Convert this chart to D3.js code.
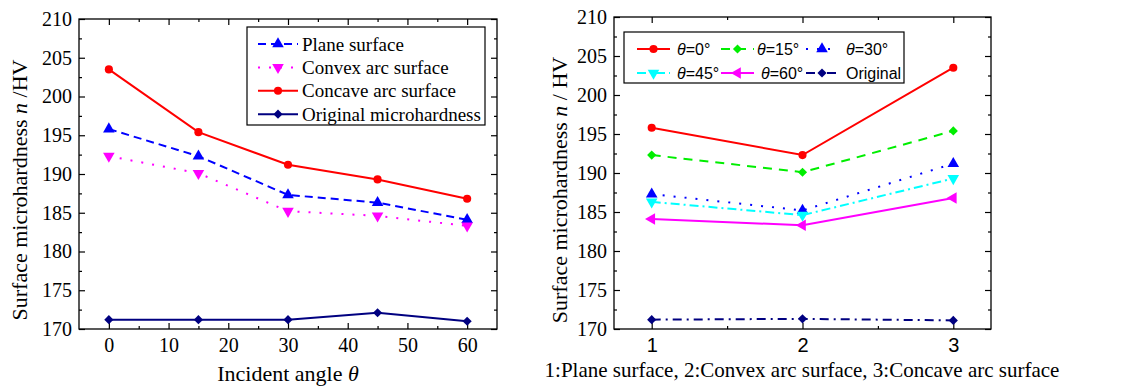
<!DOCTYPE html>
<html>
<head>
<meta charset="utf-8">
<script src="https://cdn.jsdelivr.net/npm/d3@7"></script>
<style>
  body { margin: 0; background: #fff; }
  svg { display: block; }
</style>
</head>
<body>
<svg id="chart" width="1122" height="386"></svg>
<script>
// left panel: hardness vs incident angle
var angles = [0, 15, 30, 45, 60];
var planeVals = [195.8, 192.3, 187.3, 186.3, 184.1];
var convexVals = [192.3, 190.1, 185.2, 184.6, 183.3];
var concaveVals = [203.5, 195.4, 191.2, 189.3, 186.8];
var originalVals = [171.2, 171.2, 171.2, 172.1, 171.0];

// right panel: hardness vs surface type
var surfaces = [1, 2, 3];
var theta0 = [195.8, 192.3, 203.5];
var theta15 = [192.3, 190.1, 195.4];
var theta30 = [187.3, 185.2, 191.2];
var theta45 = [186.3, 184.6, 189.3];
var theta60 = [184.1, 183.3, 186.8];
var originalSurf = [171.2, 171.3, 171.1];

var yTicks = [170, 175, 180, 185, 190, 195, 200, 205, 210];
var leftXTicks = [0, 10, 20, 30, 40, 50, 60];

var SERIF = '"Liberation Serif", "Times New Roman", serif';
var SANS = '"Liberation Sans", Arial, sans-serif';

var svg = d3.select("#chart");

var symbols = {
  circle: {type: d3.symbolCircle, size: 52, rot: 0},
  up: {type: d3.symbolTriangle, size: 58, rot: 0},
  down: {type: d3.symbolTriangle, size: 58, rot: 180},
  left: {type: d3.symbolTriangle, size: 58, rot: -90},
  diamond: {type: d3.symbolSquare, size: 42, rot: 45}
};

function drawMarker(g, x, y, sym, color) {
  var s = symbols[sym];
  g.append("path")
    .attr("d", d3.symbol().type(s.type).size(s.size)())
    .attr("transform", "translate(" + x + "," + y + ") rotate(" + s.rot + ")")
    .attr("fill", color);
}

function frame(g, x, y) {
  var x0 = x.range()[0], x1 = x.range()[1];
  var y0 = y.range()[0], y1 = y.range()[1];

  var yMinor = d3.range(172.5, 210, 5);

  // left + right axes
  g.append("g").attr("transform", "translate(" + x0 + ",0)")
    .call(d3.axisLeft(y).tickValues(yTicks).tickSizeInner(-6).tickSizeOuter(0).tickPadding(7))
    .call(a => a.selectAll("text").style("font-family", SERIF).style("font-size", "20px").attr("fill", "#000"));
  g.append("g").attr("transform", "translate(" + x0 + ",0)")
    .call(d3.axisLeft(y).tickValues(yMinor).tickSizeInner(-3).tickSizeOuter(0).tickFormat(""));
  g.append("g").attr("transform", "translate(" + x1 + ",0)")
    .call(d3.axisRight(y).tickValues(yTicks).tickSizeInner(-6).tickSizeOuter(0).tickFormat(""));
  g.append("g").attr("transform", "translate(" + x1 + ",0)")
    .call(d3.axisRight(y).tickValues(yMinor).tickSizeInner(-3).tickSizeOuter(0).tickFormat(""));

  g.selectAll(".domain").remove();
  g.selectAll(".tick line").attr("stroke", "#000").attr("stroke-width", 1.2);

  g.append("rect")
    .attr("x", x0).attr("y", y1)
    .attr("width", x1 - x0).attr("height", y0 - y1)
    .attr("fill", "none").attr("stroke", "#000").attr("stroke-width", 1.3);
}

function xAxes(g, x, y, major, minor, family, fontSize) {
  var y0 = y.range()[0], y1 = y.range()[1];
  g.append("g").attr("transform", "translate(0," + y0 + ")")
    .call(d3.axisBottom(x).tickValues(major).tickSizeInner(-6).tickSizeOuter(0).tickPadding(9).tickFormat(d3.format("d")))
    .call(a => a.selectAll("text").style("font-family", family).style("font-size", fontSize).attr("fill", "#000"));
  g.append("g").attr("transform", "translate(0," + y0 + ")")
    .call(d3.axisBottom(x).tickValues(minor).tickSizeInner(-3).tickSizeOuter(0).tickFormat(""));
  g.append("g").attr("transform", "translate(0," + y1 + ")")
    .call(d3.axisTop(x).tickValues(major).tickSizeInner(-6).tickSizeOuter(0).tickFormat(""));
  g.append("g").attr("transform", "translate(0," + y1 + ")")
    .call(d3.axisTop(x).tickValues(minor).tickSizeInner(-3).tickSizeOuter(0).tickFormat(""));
  g.selectAll(".domain").remove();
  g.selectAll(".tick line").attr("stroke", "#000").attr("stroke-width", 1.2);
}

function drawSeries(g, x, y, xs, vals, s) {
  var line = d3.line().x((d, i) => x(xs[i])).y(d => y(d));
  g.append("path")
    .datum(vals)
    .attr("d", line)
    .attr("fill", "none")
    .attr("stroke", s.color)
    .attr("stroke-width", 2)
    .attr("stroke-dasharray", s.dash);
  vals.forEach(function(v, i) { drawMarker(g, x(xs[i]), y(v), s.sym, s.color); });
}

function legendSample(g, xa, xb, yy, s) {
  g.append("line")
    .attr("x1", xa).attr("x2", xb).attr("y1", yy).attr("y2", yy)
    .attr("stroke", s.color).attr("stroke-width", 2)
    .attr("stroke-dasharray", s.dash);
  drawMarker(g, (xa + xb) / 2, yy, s.sym, s.color);
}

/////////////////////// LEFT PANEL
var xL = d3.scaleLinear().domain([-5, 65]).range([79, 497]);
var yL = d3.scaleLinear().domain([170, 210]).range([329, 19]);
var gL = svg.append("g");

frame(gL, xL, yL);
xAxes(gL, xL, yL, leftXTicks, [5, 15, 25, 35, 45, 55], SERIF, "20px");

var leftSeries = [
  {name: "Plane surface", vals: planeVals, color: "#0000ff", dash: "8,5", sym: "up"},
  {name: "Convex arc surface", vals: convexVals, color: "#ff00ff", dash: "2,9", sym: "down"},
  {name: "Concave arc surface", vals: concaveVals, color: "#ff0000", dash: null, sym: "circle"},
  {name: "Original microhardness", vals: originalVals, color: "#000080", dash: null, sym: "diamond"}
];
leftSeries.forEach(s => drawSeries(gL, xL, yL, angles, s.vals, s));

// legend
gL.append("rect").attr("x", 247).attr("y", 27).attr("width", 238).attr("height", 98)
  .attr("fill", "#fff").attr("stroke", "#000").attr("stroke-width", 1.2);
leftSeries.forEach(function(s, i) {
  var yy = 44 + i * 23.4;
  legendSample(gL, 258, 298, yy, s);
  gL.append("text").style("font-family", SERIF).attr("x", 302).attr("y", yy).attr("dy", "0.35em")
    .style("font-size", "19px").text(s.name);
});

// labels
var ylabL = gL.append("text").style("font-family", SERIF)
  .attr("transform", "translate(27,190) rotate(-90)")
  .attr("text-anchor", "middle").style("font-size", "22px");
ylabL.append("tspan").text("Surface microhardness ");
ylabL.append("tspan").style("font-style", "italic").text("n");
ylabL.append("tspan").text(" /HV");

var xlabL = gL.append("text").style("font-family", SERIF)
  .attr("x", 288).attr("y", 381).attr("text-anchor", "middle").style("font-size", "22px");
xlabL.append("tspan").text("Incident angle ");
xlabL.append("tspan").style("font-style", "italic").text("\u03b8");

/////////////////////// RIGHT PANEL
var xR = d3.scaleLinear().domain([0.75, 3.25]).range([614, 991]);
var yR = d3.scaleLinear().domain([170, 210]).range([329, 17]);
var gR = svg.append("g");

frame(gR, xR, yR);
xAxes(gR, xR, yR, surfaces, [1.5, 2.5], SANS, "20px");

var rightSeries = [
  {name: "0", vals: theta0, color: "#ff0000", dash: null, sym: "circle"},
  {name: "15", vals: theta15, color: "#00ee00", dash: "9,7", sym: "diamond"},
  {name: "30", vals: theta30, color: "#0000ff", dash: "2,9", sym: "up"},
  {name: "45", vals: theta45, color: "#00ffff", dash: "9,4,2,4", sym: "down"},
  {name: "60", vals: theta60, color: "#ff00ff", dash: null, sym: "left"},
  {name: "Original", vals: originalSurf, color: "#000080", dash: "9,5,2,5", sym: "diamond"}
];
rightSeries.forEach(s => drawSeries(gR, xR, yR, surfaces, s.vals, s));

gR.append("rect").attr("x", 624).attr("y", 32).attr("width", 280).attr("height", 51)
  .attr("fill", "#fff").attr("stroke", "#000").attr("stroke-width", 1.2);

var legPos = [
  {xa: 637, xb: 670, tx: 677, y: 49},
  {xa: 721, xb: 754, tx: 757, y: 49},
  {xa: 806, xb: 838, tx: 846, y: 49},
  {xa: 637, xb: 670, tx: 677, y: 73},
  {xa: 721, xb: 754, tx: 761, y: 73},
  {xa: 806, xb: 838, tx: 846, y: 73}
];
rightSeries.forEach(function(s, i) {
  var p = legPos[i];
  legendSample(gR, p.xa, p.xb, p.y, s);
  var t = gR.append("text").style("font-family", SANS).attr("x", p.tx).attr("y", p.y).attr("dy", "0.36em")
    .style("font-size", "16px");
  if (s.name === "Original") {
    t.text("Original");
  } else {
    t.append("tspan").style("font-style", "italic").text("\u03b8");
    t.append("tspan").text("=" + s.name + "\u00b0");
  }
});

var ylabR = gR.append("text").style("font-family", SERIF)
  .attr("transform", "translate(567,190) rotate(-90)")
  .attr("text-anchor", "middle").style("font-size", "22px");
ylabR.append("tspan").text("Surface microhardness ");
ylabR.append("tspan").style("font-style", "italic").text("n");
ylabR.append("tspan").text(" / HV");

gR.append("text").style("font-family", SERIF)
  .attr("x", 802).attr("y", 377).attr("text-anchor", "middle").style("font-size", "21px")
  .text("1:Plane surface, 2:Convex arc surface, 3:Concave arc surface");
</script>
</body>
</html>
